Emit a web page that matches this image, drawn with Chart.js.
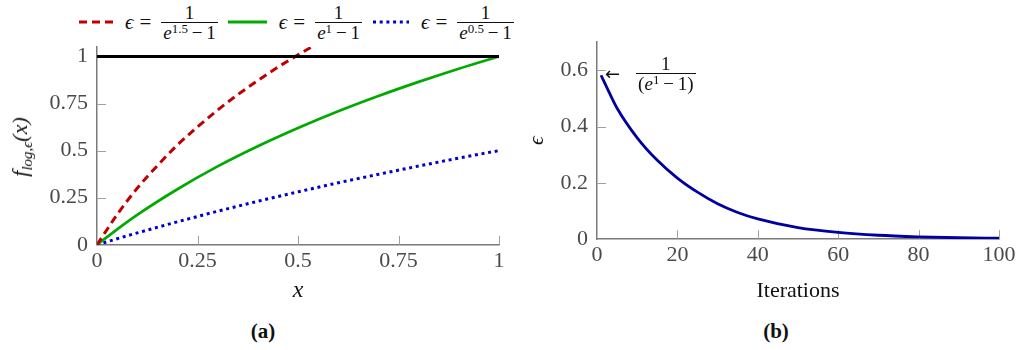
<!DOCTYPE html>
<html>
<head>
<meta charset="utf-8">
<script src="https://cdn.jsdelivr.net/npm/chart.js@4.4.0/dist/chart.umd.min.js"></script>
<style>
  body { margin: 0; background: #fff; width: 1024px; height: 350px; position: relative; overflow: hidden; font-family: "Liberation Serif", serif; }
  .box { position: absolute; top: 0; }
  #legend { position: absolute; left: 79px; top: 5px; height: 34px; display: flex; align-items: center; font-size: 21px; color: #111; white-space: nowrap; }
  #legend svg { margin-right: 12px; }
  .lt { margin-right: 10px; display: inline-flex; align-items: center; }
  .eq { margin: 0 10px 0 6px; }
  .frac { display: inline-block; vertical-align: middle; text-align: center; font-size: 19px; line-height: 17px; }
  .frac > span { display: block; padding: 0 2px; }
  .frac .num { border-bottom: 1px solid #111; padding-bottom: 1px; }
  .frac .den { padding-top: 1px; }
  .frac sup { font-size: 13px; vertical-align: 6px; line-height: 0; }
  #ylabA { position: absolute; left: 20px; top: 147px; transform: translate(-50%, -50%) rotate(-90deg); font-size: 22px; font-style: italic; white-space: nowrap; color: #111; }
  #ylabA sub { font-size: 15px; vertical-align: -5px; line-height: 0; }
  #note { position: absolute; color: #111; display: flex; align-items: center; white-space: nowrap; }
  #note .arr { font-family: "DejaVu Sans", sans-serif; font-size: 18px; margin-right: 16px; }
  .cap { position: absolute; top: 331px; transform: translate(-50%, -50%); font-weight: bold; font-size: 21px; color: #111; }
</style>
</head>
<body>
<div id="legend">
  <svg width="34" height="6"><line x1="0" y1="3" x2="34" y2="3" stroke="#c00000" stroke-width="3" stroke-dasharray="8 5"/></svg>
  <span class="lt"><i>ϵ</i><span class="eq">=</span><span class="frac"><span class="num">1</span><span class="den"><i>e</i><sup>1.5</sup>&thinsp;−&thinsp;1</span></span></span>
  <svg width="39" height="6"><line x1="0" y1="3" x2="39" y2="3" stroke="#00aa00" stroke-width="3"/></svg>
  <span class="lt"><i>ϵ</i><span class="eq">=</span><span class="frac"><span class="num">1</span><span class="den"><i>e</i><sup>1</sup>&thinsp;−&thinsp;1</span></span></span>
  <svg width="37" height="6"><line x1="1" y1="3" x2="37" y2="3" stroke="#0000cc" stroke-width="3" stroke-dasharray="3 3.7"/></svg>
  <span class="lt"><i>ϵ</i><span class="eq">=</span><span class="frac"><span class="num">1</span><span class="den"><i>e</i><sup>0.5</sup>&thinsp;−&thinsp;1</span></span></span>
</div>

<div class="box" style="left:0"><canvas id="chartA" width="520" height="305"></canvas></div>
<div class="box" style="left:520px"><canvas id="chartB" width="504" height="305"></canvas></div>

<div id="ylabA">f<sub>log,ϵ</sub>(x)</div>
<div id="note"><span class="arr">←</span><span class="frac"><span class="num">1</span><span class="den">(<i>e</i><sup>1</sup>&thinsp;−&thinsp;1)</span></span></div>
<div class="cap" style="left:263px">(a)</div>
<div class="cap" style="left:776px">(b)</div>

<script>
// (a) values
const xRed = [0, 0.05, 0.1, 0.15, 0.2, 0.25, 0.3, 0.35, 0.4, 0.45, 0.5, 0.55];
const redVals = [0, 0.16, 0.3, 0.42, 0.53, 0.626, 0.715, 0.797, 0.872, 0.943, 1.008, 1.07];
const xCurve = [0, 0.05, 0.1, 0.2, 0.3, 0.4, 0.5, 0.6, 0.7, 0.8, 0.9, 1];
const greenVals = [0, 0.082, 0.159, 0.295, 0.416, 0.523, 0.62, 0.709, 0.79, 0.865, 0.935, 1];
const blueVals = [0, 0.032, 0.063, 0.122, 0.178, 0.231, 0.281, 0.329, 0.374, 0.418, 0.46, 0.5];
const refX = [0, 1];
const refVals = [1, 1];
const xTicksA = [0, 0.25, 0.5, 0.75, 1];
const yTicksA = [0, 0.25, 0.5, 0.75, 1];

// (b)
const iterations = [1, 3, 5, 10, 15, 20, 25, 30, 35, 40, 50, 60, 70, 80, 90, 100];
const epsVals = [0.582, 0.522, 0.465, 0.36, 0.28, 0.217, 0.167, 0.126, 0.095, 0.072, 0.041, 0.024, 0.014, 0.0085, 0.0052, 0.0033];
const xTicksB = [0, 20, 40, 60, 80, 100];
const yTicksB = [0, 0.2, 0.4, 0.6];

const pts = (xs, ys) => xs.map((x, i) => ({ x: x, y: ys[i] }));
const serif = '"Liberation Serif", serif';
const tickFont = { family: serif, size: 22 };
const fmt = v => String(+v.toFixed(2));

// pgfplots style ticks pointing into the plot
const innerTicks = {
    id: 'innerTicks',
    beforeDatasetsDraw(chart) {
        const { ctx, chartArea: a, scales } = chart;
        ctx.save();
        ctx.strokeStyle = '#a0a0a0';
        ctx.lineWidth = 1;
        scales.x.ticks.forEach(t => {
            if (t.value === scales.x.min) return;
            const p = Math.round(scales.x.getPixelForValue(t.value)) + 0.5;
            ctx.beginPath(); ctx.moveTo(p, a.bottom); ctx.lineTo(p, a.bottom - 9); ctx.stroke();
        });
        scales.y.ticks.forEach(t => {
            if (t.value === scales.y.min) return;
            const p = Math.round(scales.y.getPixelForValue(t.value)) + 0.5;
            ctx.beginPath(); ctx.moveTo(a.left, p); ctx.lineTo(a.left + 9, p); ctx.stroke();
        });
        ctx.restore();
    }
};

function axis(min, max, ticks, width, title) {
    const o = {
        type: 'linear', min: min, max: max,
        afterBuildTicks: s => { s.ticks = ticks.map(v => ({ value: v })); },
        grid: { display: false, drawTicks: false },
        border: { display: true, color: '#7a7a7a', width: 1.5 },
        ticks: { font: tickFont, color: '#4a4a4a', padding: 3, callback: fmt, maxRotation: 0, autoSkip: false }
    };
    if (width) { o.afterFit = s => { s.width = width; }; o.ticks.padding = 9; }
    if (title) o.title = title;
    return o;
}

const lineDs = (data, color, width, dash) => ({
    data: data, borderColor: color, borderWidth: width, borderDash: dash || [],
    pointRadius: 0, cubicInterpolationMode: 'monotone', fill: false
});

new Chart(document.getElementById('chartA'), {
    type: 'line',
    data: {
        datasets: [
            Object.assign(lineDs(pts(refX, refVals), '#000000', 3), { order: 0 }),
            Object.assign(lineDs(pts(xRed, redVals), '#c00000', 3, [8, 5]), { order: 1 }),
            Object.assign(lineDs(pts(xCurve, greenVals), '#00aa00', 2.7), { order: 2 }),
            Object.assign(lineDs(pts(xCurve, blueVals), '#0000cc', 3, [3, 3.7]), { order: 3 })
        ]
    },
    options: {
        responsive: false, animation: false,
        layout: { padding: { top: 47, right: 21, left: 0, bottom: 0 } },
        plugins: { legend: { display: false }, tooltip: { enabled: false } },
        scales: {
            x: axis(0, 1, xTicksA, 0, { display: true, text: 'x', color: '#111', padding: { top: -1, bottom: 0 },
                font: { family: serif, size: 24, style: 'italic' } }),
            y: axis(0, 1.05, yTicksA, 97)
        }
    },
    plugins: [innerTicks]
});

const note = document.getElementById('note');
const placeNote = {
    id: 'placeNote',
    afterRender(chart) {
        const px = chart.scales.x.getPixelForValue(iterations[0]);
        const py = chart.scales.y.getPixelForValue(epsVals[0]);
        note.style.left = (520 + px + 4) + 'px';
        note.style.top = (py - 20) + 'px';
    }
};

new Chart(document.getElementById('chartB'), {
    type: 'line',
    data: { datasets: [lineDs(pts(iterations, epsVals), '#0000a0', 2.8)] },
    options: {
        responsive: false, animation: false,
        layout: { padding: { top: 42, right: 25, left: 0, bottom: 1 } },
        plugins: { legend: { display: false }, tooltip: { enabled: false } },
        scales: {
            x: axis(0, 100, xTicksB, 0, { display: true, text: 'Iterations', color: '#111', padding: { top: 6, bottom: 0 },
                font: { family: serif, size: 22 } }),
            y: axis(0, 0.7, yTicksB, 77, { display: true, text: 'ϵ', color: '#111', padding: { top: 4, bottom: 0 },
                font: { family: serif, size: 22, style: 'italic' } })
        }
    },
    plugins: [innerTicks, placeNote]
});
</script>
</body>
</html>
